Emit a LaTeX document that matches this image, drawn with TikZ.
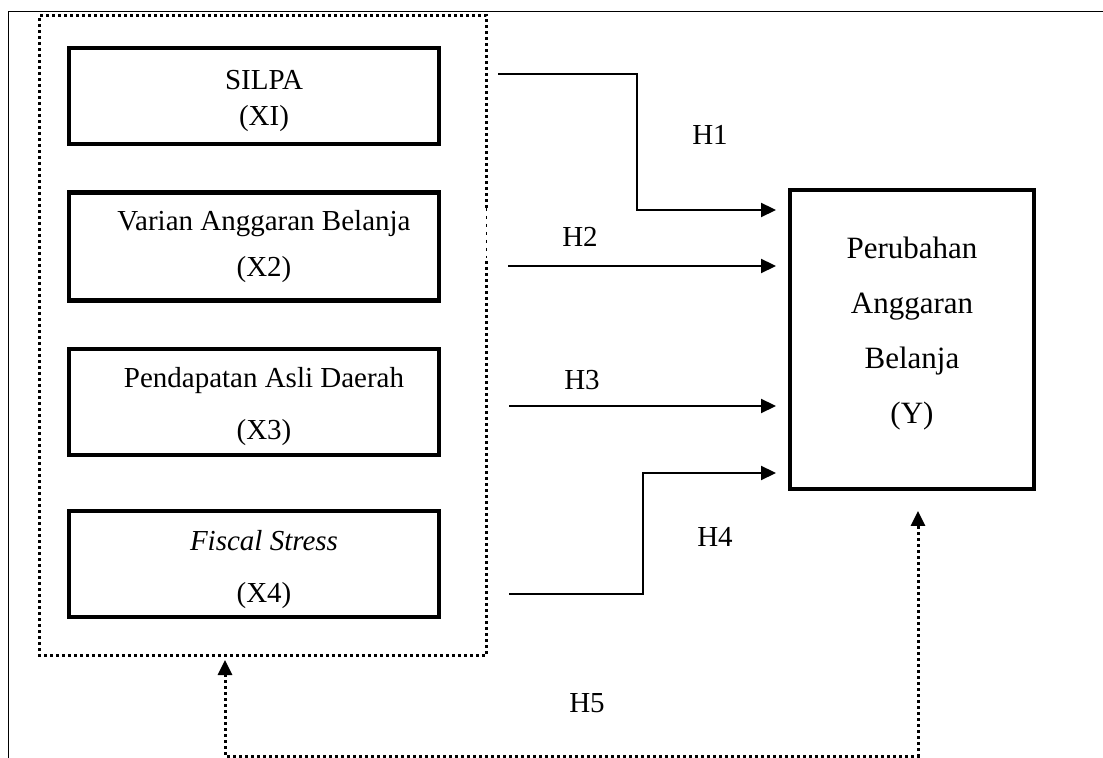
\documentclass[tikz,border=0pt]{standalone}
\usepackage{fontspec}
\setmainfont{Liberation Serif}
\usetikzlibrary{positioning,arrows.meta}

\newcommand{\xpad}{\hspace*{10pt}}

\tikzset{
  htip/.tip={Triangle[length=7.5pt,width=7pt]},
  varbox/.style={draw, line width=2.2pt, minimum width=185pt, align=center,
    font=\fontsize{14.5}{18}\selectfont},
  link/.style={line width=1.1pt, -htip},
  dotline/.style={line width=1.5pt, dash pattern=on 1.5pt off 1.5pt},
  hlabel/.style={font=\fontsize{14.5}{17}\selectfont}
}

\begin{document}
\begin{tikzpicture}[x=0.5pt, y=-0.5pt, node distance=22pt]
  \useasboundingbox (0,0) rectangle (1103,758);
  % frame
  \draw[line width=0.5pt] (1103,12) -- (8,12) -- (8,758);

  % independent variables
  \node[varbox, minimum height=48pt] (silpa) at (254,96) {\xpad\rule{0pt}{15pt}SILPA\\\xpad(XI)};
  \node[varbox, minimum height=54pt, below=of silpa] (varian) {\xpad Varian Anggaran Belanja\\[5pt]\xpad(X2)};
  \node[varbox, minimum height=53pt, below=of varian] (pad) {\xpad\rule{0pt}{15pt}Pendapatan Asli Daerah\\[8pt]\xpad(X3)};
  \node[varbox, minimum height=53pt, below=26pt of pad] (fiscal) {\xpad\rule{0pt}{15pt}\textit{Fiscal Stress}\\[8pt]\xpad(X4)};

  % dotted group
  \node[inner sep=0pt, outer sep=0pt, minimum width=223.5pt, minimum height=320pt] (grp) at (263,335.5) {};
  \draw[dotline] (grp.east |- 0,208) -- (grp.north east) -- (grp.north west)
    -- (grp.south west) -- (grp.south east) -- (grp.east |- 0,258);
  \draw[line width=0.5pt, dash pattern=on 1.5pt off 2.5pt] (grp.east |- 0,208) -- (grp.east |- 0,258);

  % dependent variable
  \node[draw, line width=2.2pt, minimum width=122pt, minimum height=149.5pt, align=center,
    font=\fontsize{15.5}{27.5}\selectfont] (perubahan) at (912,339.5)
    {Perubahan\\Anggaran\\Belanja\\(Y)\rule[-9.5pt]{0pt}{9.5pt}};

  % ends of the connectors
  \coordinate (h1s) at (498,74);
  \coordinate (h1k) at (637,74);
  \coordinate (h1e) at (776,210);
  \coordinate (h2s) at (508,266);
  \coordinate (h2e) at (776,266);
  \coordinate (h3s) at (509,406);
  \coordinate (h3e) at (776,406);
  \coordinate (h4s) at (509,594);
  \coordinate (h4k) at (643,594);
  \coordinate (h4e) at (776,473);
  \coordinate (h5l) at (225,660);
  \coordinate (h5b) at (918,756);
  \coordinate (h5r) at (918,511);

  \draw[link] (h1s) -- (h1k) |- (h1e);
  \draw[link] (h2s) -- (h2e);
  \draw[link] (h3s) -- (h3e);
  \draw[link] (h4s) -- (h4k) |- (h4e);
  \draw[dotline, htip-htip] (h5l) |- (h5b) -- (h5r);

  % hypotheses
  \node[hlabel] (lh1) at (710,135) {H1};
  \node[hlabel] (lh2) at (580,237) {H2};
  \node[hlabel] (lh3) at (582,380) {H3};
  \node[hlabel] (lh4) at (715,537) {H4};
  \node[hlabel] (lh5) at (587,703) {H5};
\end{tikzpicture}
\end{document}
